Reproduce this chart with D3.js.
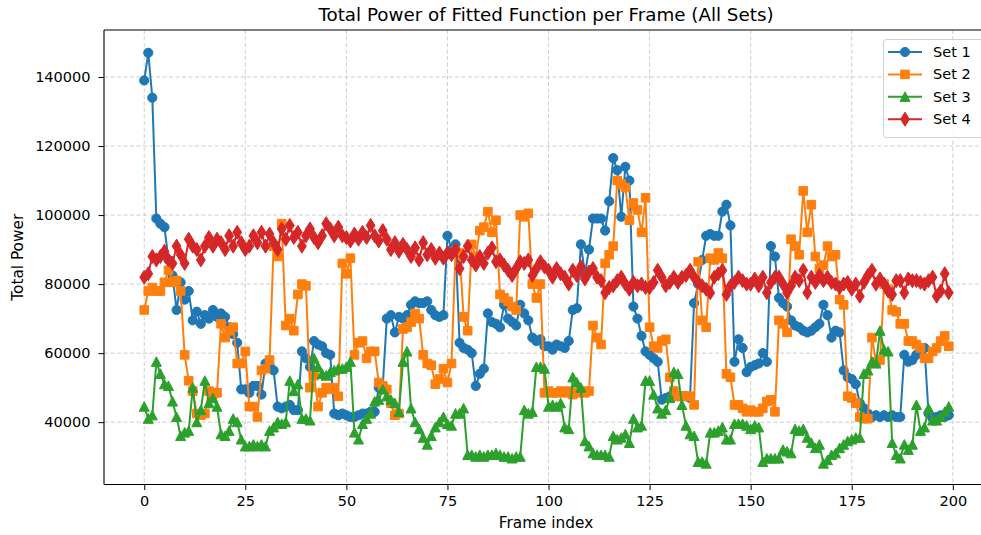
<!DOCTYPE html>
<html>
<head>
<meta charset="utf-8">
<script src="https://cdn.jsdelivr.net/npm/d3@7"></script>
<style>
body { margin: 0; background: #fff; }
text { font-family: "DejaVu Sans", sans-serif; }
</style>
</head>
<body>
<div id="chart"></div>
<script>
var set1 = [139000, 147000, 134000, 99000, 97500, 96500, 87000, 82500, 72500, 80500, 75500, 78000, 69500, 72000, 68500, 71000, 70000, 72500, 70500, 71500, 70500, 67500, 65500, 63000, 49500,
    49500, 48500, 50500, 50500, 48000, 57000, 56500, 55000, 44500, 44000, 44500, 45000, 43500, 43500, 60500, 58500, 56000, 63500, 62500, 62000, 60000, 59500, 42500, 42000, 42500,
    42000, 41500, 41500, 42000, 42500, 42500, 43000, 43000, 50000, 50500, 70000, 71000, 66000, 70500, 70000, 71000, 74000, 75000, 74500, 74500, 75000, 72500, 71000, 70500, 71000,
    94000, 90000, 91500, 63000, 61500, 61000, 60000, 50500, 54000, 55500, 71500, 69000, 68500, 67500, 74000, 70000, 69000, 68000, 74000, 71500, 69500, 64500, 63500, 64000, 62000,
    62000, 61000, 62500, 62000, 61500, 63500, 72500, 73000, 91500, 83000, 90000, 99000, 99000, 99000, 95500, 104000, 116500, 113000, 99500, 114000, 110000, 73500, 70000, 65000, 60500,
    59500, 58500, 57500, 46500, 47000, 47500, 47500, 47500, 47500, 47500, 47000, 74500, 80000, 87000, 94000, 94500, 94000, 94000, 101000, 103000, 97000, 57500, 64000, 61500, 54500,
    56000, 56500, 57000, 60000, 57500, 91000, 88000, 76000, 74500, 73500, 69500, 68000, 67500, 66500, 66000, 66500, 67500, 68500, 74000, 71000, 64500, 66500, 66000, 55000, 53000,
    52500, 51000, 45500, 44000, 42500, 41500, 42000, 41500, 42000, 41500, 42000, 41500, 41500, 59500, 57500, 58000, 59500, 60500, 61500, 42500, 41000, 41500, 42000, 41500, 42000]

var set2 = [72500, 78000, 79000, 78000, 78000, 80500, 84000, 80500, 81000, 78000, 59500, 52000, 49000, 42500, 42000, 42500, 49000, 48000, 48500, 68500, 64500, 66500, 67500, 57000, 57000,
    60500, 44500, 44500, 41500, 55000, 55500, 58000, 91000, 88000, 97500, 68000, 70000, 66500, 77000, 80000, 79500, 50000, 53500, 44500, 48500, 50000, 49500, 50000, 47500, 86000,
    83000, 87500, 59500, 63000, 63500, 58500, 60500, 60500, 51500, 50500, 49500, 45500, 42000, 42500, 67000, 67500, 69000, 71500, 70000, 59500, 57000, 56500, 51000, 52500, 55500,
    51500, 57000, 89500, 89000, 70500, 66500, 91500, 88000, 95500, 96500, 101000, 95000, 98500, 77000, 76000, 75000, 73500, 72500, 100000, 99500, 100500, 80000, 76000, 80000, 48500,
    49000, 48500, 48500, 49000, 48500, 49000, 48000, 48500, 49000, 48500, 49000, 68000, 64500, 62500, 86000, 88500, 91000, 110000, 109000, 108000, 98500, 103500, 101500, 95000, 105000,
    67500, 62000, 61500, 63500, 64000, 53000, 49000, 47500, 47500, 47500, 47500, 45000, 86500, 69500, 67500, 87500, 87000, 89000, 87500, 54000, 53000, 45000, 45000, 44000, 43000,
    43500, 43000, 43000, 44000, 46000, 46500, 43000, 69500, 68500, 66000, 93000, 91000, 88500, 107000, 95000, 103000, 88000, 84500, 85500, 91000, 88000, 88500, 75500, 74000, 47500,
    47000, 45500, 41500, 41000, 41000, 64500, 57500, 58000, 80000, 78500, 72500, 72000, 68500, 68500, 63500, 63500, 62500, 61500, 58500, 58500, 60500, 61500, 63500, 65000, 62000]

var set3 = [44500, 41000, 42000, 57500, 54000, 51000, 50500, 46000, 41500, 36000, 37000, 37500, 50000, 40000, 43500, 52000, 45500, 47000, 44500, 36500, 36000, 37500, 41000, 40000, 35000,
    33000, 33000, 33500, 33000, 33500, 33000, 37500, 38500, 40000, 39500, 40000, 52000, 49000, 51000, 41000, 41000, 40500, 58500, 56000, 54000, 53500, 54500, 55000, 55500, 55500,
    56000, 57500, 37000, 35000, 39500, 41000, 42500, 46000, 46500, 49500, 47500, 46500, 45500, 43000, 57500, 60500, 44000, 40000, 38000, 35500, 33500, 36000, 38500, 40000, 41500,
    39500, 39000, 42500, 42500, 44000, 30500, 30500, 30000, 30500, 30000, 30500, 30500, 31000, 30500, 30000, 30000, 29500, 30000, 30000, 43500, 42500, 43000, 56000, 56000, 55500,
    44500, 45000, 44500, 45500, 38500, 38000, 53000, 51500, 50000, 34500, 33000, 31000, 30500, 30500, 30500, 30000, 36000, 35000, 35500, 36500, 34000, 41000, 38500, 39000, 52000,
    52000, 48000, 44000, 42500, 43500, 47000, 54500, 54000, 45000, 39000, 36500, 36000, 28500, 28500, 28000, 37000, 37000, 37500, 38500, 35000, 35000, 39500, 39500, 39500, 39000,
    38000, 39000, 38500, 28500, 29500, 29500, 29500, 29500, 32000, 31500, 31000, 38000, 37500, 38000, 35500, 34000, 32500, 33500, 28000, 29000, 30500, 31000, 32500, 33500, 34500,
    35000, 35500, 35500, 54000, 55000, 57500, 57000, 66500, 61000, 60500, 34000, 30500, 29500, 33500, 32000, 33500, 45000, 37500, 38500, 44000, 40500, 40500, 41500, 43000, 44500]

var set4 = [82000, 83000, 88000, 87000, 88000, 89500, 87000, 86000, 91000, 88500, 86000, 93000, 91000, 90000, 87000, 91000, 93500, 91000, 93000, 92000, 90000, 94000, 91000, 95000, 92000,
    90000, 91000, 94000, 92000, 95000, 91000, 94500, 92000, 90000, 96000, 93000, 97000, 93500, 95000, 91000, 94000, 96000, 93500, 92000, 94000, 97500, 96000, 94000, 96500, 94000,
    93500, 92500, 94500, 93000, 95000, 93500, 97000, 94000, 92500, 95500, 93000, 90000, 92000, 89500, 91500, 90000, 88000, 90500, 87000, 92000, 88500, 90000, 87500, 89000, 87500,
    89000, 88500, 90000, 84500, 88000, 91000, 87000, 85500, 88000, 86000, 89000, 90500, 86500, 87000, 85500, 84000, 82500, 84500, 86500, 86000, 87000, 82500, 84500, 86500, 85000,
    84000, 82000, 84500, 83000, 82000, 80000, 84000, 82500, 85000, 81500, 83500, 84500, 82000, 81000, 77500, 79000, 79500, 81000, 82000, 80000, 78500, 80500, 79500, 80000, 79000,
    79000, 80500, 84000, 82000, 79500, 80500, 82000, 80500, 82000, 82500, 84000, 82000, 80500, 79500, 78500, 77500, 82000, 83000, 84000, 77000, 79500, 80500, 82000, 81000, 80000,
    80000, 81500, 79500, 82000, 77500, 80500, 82000, 82000, 80000, 77500, 79500, 82000, 81000, 84000, 77500, 82000, 80500, 82500, 81000, 82000, 80500, 80000, 79000, 80000, 80500,
    78500, 80000, 76500, 80500, 82500, 84000, 80000, 81500, 80000, 78000, 77000, 81000, 81000, 77500, 81500, 81000, 81000, 80500, 80000, 81000, 82000, 76500, 78000, 83000, 77500]

var seriesNames = ["Set 1", "Set 2", "Set 3", "Set 4"]
var xTicks = [0, 25, 50, 75, 100, 125, 150, 175, 200]
var yTicks = [40000, 60000, 80000, 100000, 120000, 140000]

var colors = ["#1f77b4", "#ff7f0e", "#2ca02c", "#d62728"]
var markerTypes = ["circle", "square", "triangle", "diamond"]

var width = 981, height = 535
var margin = { top: 30, left: 104, right: 989, bottom: 484.5 }

var svg = d3.select("#chart")
    .append("svg")
    .attr("width", width)
    .attr("height", height)

var x = d3.scaleLinear()
    .domain([-9.95, 208.95])
    .range([margin.left, margin.right])

var y = d3.scaleLinear()
    .domain([21940, 153620])
    .range([margin.bottom, margin.top])

// grid
svg.append("g").selectAll("line")
    .data(xTicks)
    .enter().append("line")
    .attr("x1", function(d) { return x(d) })
    .attr("x2", function(d) { return x(d) })
    .attr("y1", margin.top)
    .attr("y2", margin.bottom)
    .attr("stroke", "#c8c8c8")
    .attr("stroke-width", 0.9)
    .attr("stroke-dasharray", "4,2.5")

svg.append("g").selectAll("line")
    .data(yTicks)
    .enter().append("line")
    .attr("x1", margin.left)
    .attr("x2", margin.right)
    .attr("y1", function(d) { return y(d) })
    .attr("y2", function(d) { return y(d) })
    .attr("stroke", "#c8c8c8")
    .attr("stroke-width", 0.9)
    .attr("stroke-dasharray", "4,2.5")

function markerPath(type) {
    if (type == "circle") return "M4.6,0A4.6,4.6,0,1,1,-4.6,0A4.6,4.6,0,1,1,4.6,0Z"
    if (type == "square") return "M-4.3,-4.3L4.3,-4.3L4.3,4.3L-4.3,4.3Z"
    if (type == "triangle") return "M0,-5L5,4.6L-5,4.6Z"
    return "M0,-7L4.4,0L0,7L-4.4,0Z"
}

var line = d3.line()
    .x(function(d, i) { return x(i) })
    .y(function(d) { return y(d) })

var allSets = [set1, set2, set3, set4]

allSets.forEach(function(values, k) {
    var g = svg.append("g").attr("class", "series")
    g.append("path")
        .datum(values)
        .attr("d", line)
        .attr("fill", "none")
        .attr("stroke", colors[k])
        .attr("stroke-width", 2)
        .attr("stroke-linejoin", "round")

    g.selectAll(".pt")
        .data(values)
        .enter().append("path")
        .attr("class", "pt")
        .attr("d", markerPath(markerTypes[k]))
        .attr("transform", function(d, i) { return "translate(" + x(i) + "," + y(d) + ")" })
        .attr("fill", colors[k])
        .attr("stroke", colors[k])
        .attr("stroke-width", 1)
})

// spines
svg.append("line").attr("x1", margin.left).attr("x2", margin.left)
    .attr("y1", margin.top).attr("y2", margin.bottom).attr("stroke", "#000").attr("stroke-width", 1.1)
svg.append("line").attr("x1", margin.left).attr("x2", margin.right)
    .attr("y1", margin.bottom).attr("y2", margin.bottom).attr("stroke", "#000").attr("stroke-width", 1.1)
svg.append("line").attr("x1", margin.left).attr("x2", margin.right)
    .attr("y1", margin.top).attr("y2", margin.top).attr("stroke", "#000").attr("stroke-width", 1.1)

var xAxis = svg.append("g")
    .attr("transform", "translate(0," + margin.bottom + ")")
    .call(d3.axisBottom(x).tickValues(xTicks).tickSize(5.5).tickPadding(6).tickSizeOuter(0))
xAxis.select(".domain").remove()
xAxis.selectAll("text").style("font-size", "14.5px").attr("fill", "#000")
xAxis.selectAll("line").attr("stroke", "#000")

var yAxis = svg.append("g")
    .attr("transform", "translate(" + margin.left + ",0)")
    .call(d3.axisLeft(y).tickValues(yTicks).tickSize(5.5).tickPadding(8).tickFormat(d3.format("d")).tickSizeOuter(0))
yAxis.select(".domain").remove()
yAxis.selectAll("text").style("font-size", "14.5px").attr("fill", "#000")
yAxis.selectAll("line").attr("stroke", "#000")

svg.append("text")
    .attr("x", 546)
    .attr("y", 21)
    .attr("text-anchor", "middle")
    .style("font-size", "18.3px")
    .text("Total Power of Fitted Function per Frame (All Sets)")

svg.append("text")
    .attr("x", 546)
    .attr("y", 528)
    .attr("text-anchor", "middle")
    .style("font-size", "15.3px")
    .text("Frame index")

svg.append("text")
    .attr("transform", "translate(23," + ((margin.top + margin.bottom) / 2) + ") rotate(-90)")
    .attr("text-anchor", "middle")
    .style("font-size", "15.3px")
    .text("Total Power")

// legend
var legend = svg.append("g")
legend.append("rect")
    .attr("x", 883.5)
    .attr("y", 39.5)
    .attr("width", 110)
    .attr("height", 98)
    .attr("rx", 3)
    .attr("fill", "#fff")
    .attr("fill-opacity", 0.8)
    .attr("stroke", "#d0d0d0")

seriesNames.forEach(function(name, k) {
    var ly = 52 + k * 22.4
    legend.append("line")
        .attr("x1", 888).attr("x2", 922)
        .attr("y1", ly).attr("y2", ly)
        .attr("stroke", colors[k]).attr("stroke-width", 2)
    legend.append("path")
        .attr("d", markerPath(markerTypes[k]))
        .attr("transform", "translate(905," + ly + ")")
        .attr("fill", colors[k]).attr("stroke", colors[k])
    legend.append("text")
        .attr("x", 933)
        .attr("y", ly)
        .attr("dy", "0.35em")
        .style("font-size", "14.5px")
        .text(name)
})
</script>
</body>
</html>
